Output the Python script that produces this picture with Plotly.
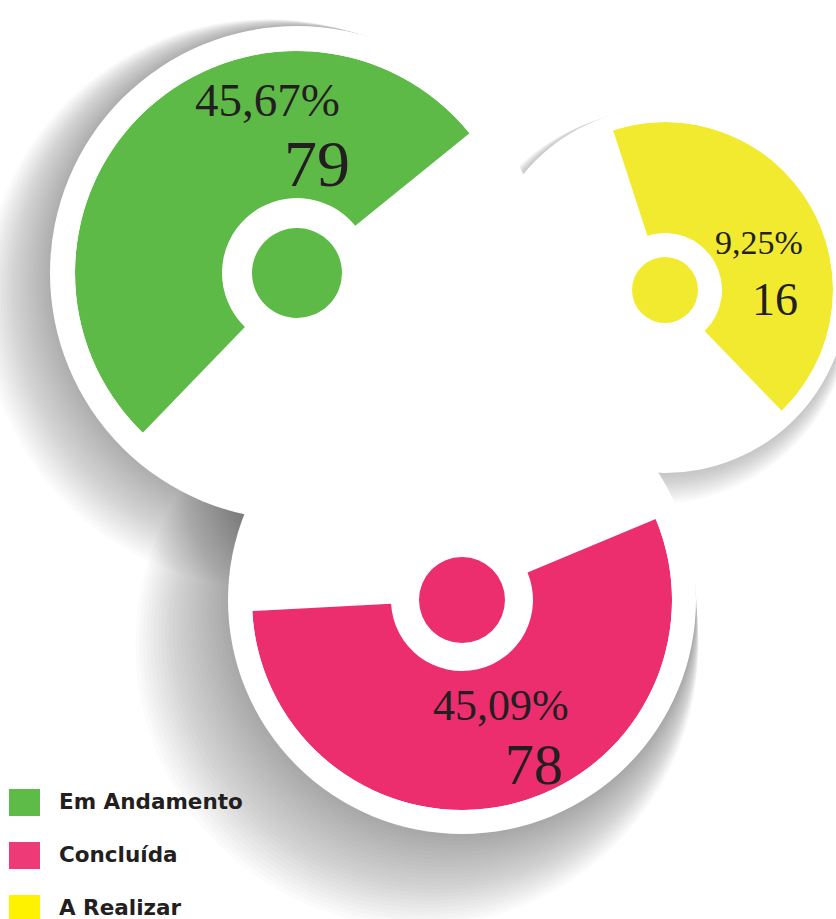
import plotly.graph_objects as go

W, H = 836, 919

# ---- data ----
categories = ["Em Andamento", "Concluída", "A Realizar"]
percent_labels = ["45,67%", "45,09%", "9,25%"]
count_values = [79, 78, 16]
colors = ["#5eba46", "#ec2d6e", "#f2ea2e"]
legend_colors = ["#5fbb47", "#ef3a78", "#fff200"]

# ---- style / geometry (pixels) ----
geom = [
    dict(cx=297, cy=273, rw=247, rin=75, rout=222, rdot=45, a0=39, a1=226, sh=(1.3, 1.3, 1.6, 24)),
    dict(cx=462, cy=600, rw=234, rin=71, rout=210, rdot=43, a0=-177, a1=22.7, sh=(1.8, 1.8, 1.9, 26)),
    dict(cx=665, cy=290, rw=183, rin=57, rout=168, rdot=33, a0=-46, a1=108, sh=(0.7, 1.2, 0.9, 16)),
]
label_pos = [
    dict(px=(267, 100, 47), cn=(317, 163, 66)),
    dict(px=(501, 705, 44), cn=(534, 764, 58)),
    dict(px=(759, 242, 34), cn=(775, 299, 46)),
]


def pxx(x):
    return x / W


def pxy(y):
    return 1 - y / H


fig = go.Figure()
shapes = []

# soft shadows (stacked translucent discs, offset to lower-left)
for g in geom:
    dx, dy, dr, n = g["sh"]
    for k in range(n):
        r = g["rw"] + dr * k
        cx = g["cx"] - dx * k
        cy = g["cy"] + dy * k
        shapes.append(dict(type="circle", xref="paper", yref="paper", layer="below",
                           x0=pxx(cx - r), x1=pxx(cx + r), y0=pxy(cy + r), y1=pxy(cy - r),
                           fillcolor="rgba(70,72,82,0.022)", line=dict(width=0)))
# white discs
for g in geom:
    r = g["rw"]
    shapes.append(dict(type="circle", xref="paper", yref="paper", layer="below",
                       x0=pxx(g["cx"] - r), x1=pxx(g["cx"] + r),
                       y0=pxy(g["cy"] + r), y1=pxy(g["cy"] - r),
                       fillcolor="white", line=dict(width=0)))

annotations = []
for i, g in enumerate(geom):
    pname = "polar" if i == 0 else f"polar{i + 1}"
    R = g["rout"]
    dom_x = [pxx(g["cx"] - R), pxx(g["cx"] + R)]
    dom_y = [pxy(g["cy"] + R), pxy(g["cy"] - R)]
    span = g["a1"] - g["a0"]
    mid = (g["a0"] + g["a1"]) / 2
    fig.add_trace(go.Barpolar(
        r=[g["rout"] - g["rin"]], base=[g["rin"]], theta=[mid], width=[span],
        marker=dict(color=colors[i], line=dict(width=0)),
        subplot=pname, showlegend=False, name=categories[i], hoverinfo="name"))
    fig.add_trace(go.Barpolar(
        r=[g["rdot"]], base=[0], theta=[0], width=[360],
        marker=dict(color=colors[i], line=dict(width=0)),
        subplot=pname, showlegend=False, name=categories[i], hoverinfo="name"))
    fig.update_layout(**{pname: dict(
        domain=dict(x=dom_x, y=dom_y),
        bgcolor="rgba(0,0,0,0)",
        radialaxis=dict(visible=False, range=[0, R]),
        angularaxis=dict(visible=False, rotation=0, direction="counterclockwise"),
        bargap=0,
    )})
    lp = label_pos[i]
    x, y, s = lp["px"]
    annotations.append(dict(text=percent_labels[i], x=pxx(x), y=pxy(y), xref="paper", yref="paper",
                            showarrow=False, xanchor="center", yanchor="middle",
                            font=dict(family="Liberation Serif", size=s, color="#231f20")))
    x, y, s = lp["cn"]
    annotations.append(dict(text=str(count_values[i]), x=pxx(x), y=pxy(y), xref="paper", yref="paper",
                            showarrow=False, xanchor="center", yanchor="middle",
                            font=dict(family="Liberation Serif", size=s, color="#231f20")))

# legend
sq_y = [802.5, 855.5, 908.5]
txt_y = [801, 854, 907]
for i, cat in enumerate(categories):
    yc = sq_y[i]
    shapes.append(dict(type="rect", xref="paper", yref="paper", layer="above",
                       x0=pxx(9), x1=pxx(40), y0=pxy(yc + 13.5), y1=pxy(yc - 13.5),
                       fillcolor=legend_colors[i], line=dict(width=0)))
    annotations.append(dict(text=f"<b>{cat}</b>", x=pxx(57), y=pxy(txt_y[i]), xref="paper", yref="paper",
                            showarrow=False, xanchor="left", yanchor="middle",
                            font=dict(family="DejaVu Sans", size=21.5, color="#231f20")))

fig.update_layout(width=W, height=H, margin=dict(l=0, r=0, t=0, b=0, pad=0),
                  paper_bgcolor="white", plot_bgcolor="white",
                  shapes=shapes, annotations=annotations, showlegend=False)
fig.write_html("out.html", config={"displayModeBar": False},
               post_script="document.body.style.margin='0px';")
